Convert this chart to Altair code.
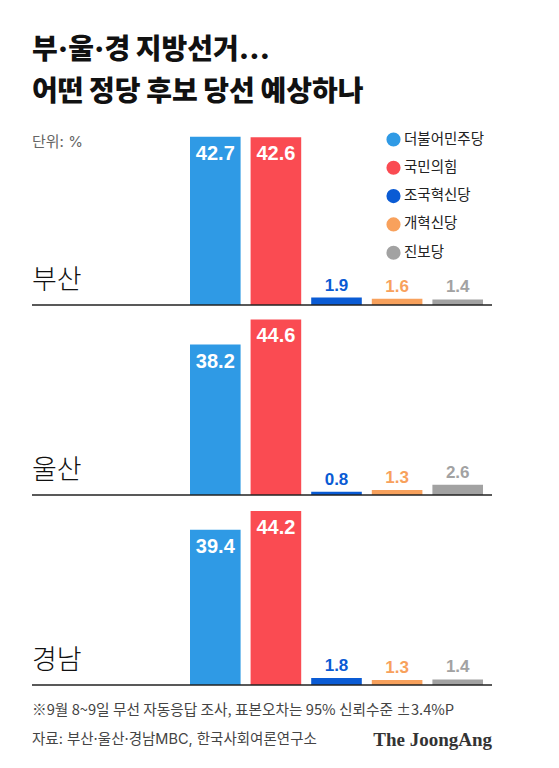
import altair as alt
import pandas as pd

title_lines = ["부·울·경 지방선거…", "어떤 정당 후보 당선 예상하나"]
unit_label = "단위: %"
parties = ["더불어민주당", "국민의힘", "조국혁신당", "개혁신당", "진보당"]
party_colors = ["#2F9AE5", "#FA4B52", "#0A5BD4", "#F8A15C", "#A2A2A2"]
regions = ["부산", "울산", "경남"]
busan = [42.7, 42.6, 1.9, 1.6, 1.4]
ulsan = [38.2, 44.6, 0.8, 1.3, 2.6]
gyeongnam = [39.4, 44.2, 1.8, 1.3, 1.4]
footnotes = ["※9월 8~9일 무선 자동응답 조사, 표본오차는 95% 신뢰수준 ±3.4%P",
             "자료: 부산·울산·경남MBC, 한국사회여론연구소"]
brand = "The JoongAng"

KR = "Noto Sans CJK KR"
MIX = "Inter, Noto Sans CJK KR"
NUM = "Liberation Sans"
W = 460
PANEL_H = 189
HEADER_H = 108
FOOTER_H = 77

color_scale = alt.Scale(domain=parties, range=party_colors)
legend = alt.Legend(orient="none", legendX=354, legendY=124, title=None,
                    symbolType="circle", symbolSize=200, symbolStrokeWidth=0,
                    symbolOpacity=1, labelFont=KR, labelFontSize=14.5,
                    labelColor="#222222", labelOffset=3, rowPadding=12.3,
                    labelLimit=200)

x_enc = alt.X("party:N", sort=parties,
              scale=alt.Scale(domain=parties, range=[158, 451],
                              paddingInner=0.165, paddingOuter=0),
              axis=None)
y_scale = alt.Scale(domain=[0, 48], nice=False, zero=True)


def panel(region, values, first=False):
    df = pd.DataFrame({"party": parties, "value": values})
    base = alt.Chart(df)
    y_enc = alt.Y("value:Q", scale=y_scale, axis=None)
    bars = base.mark_bar().encode(
        x=x_enc, y=y_enc,
        color=alt.Color("party:N", scale=color_scale, legend=legend))
    inside = base.transform_filter("datum.value >= 10").mark_text(
        font=NUM, fontWeight="bold", fontSize=20, color="white",
        baseline="middle", dy=17).encode(
        x=x_enc, y=y_enc, text=alt.Text("value:Q", format=".1f"))
    outside = base.transform_filter("datum.value < 10").mark_text(
        font=NUM, fontWeight="bold", fontSize=17,
        baseline="middle", dy=-12).encode(
        x=x_enc, y=y_enc, text=alt.Text("value:Q", format=".1f"),
        color=alt.Color("party:N", scale=color_scale, legend=None))
    one = pd.DataFrame({"region": [region]})
    rule = alt.Chart(one).mark_rule(color="#222222", strokeWidth=1.5).encode(
        y=alt.YDatum(0))
    label = alt.Chart(one).mark_text(
        font=KR, fontWeight=300, fontSize=27, color="#111111",
        align="left", baseline="middle").encode(
        x=alt.value(0), y=alt.value(PANEL_H - 24), text="region:N")
    layers = [bars, inside, outside, rule, label]
    if first:
        unit = alt.Chart(pd.DataFrame({"t": [unit_label]})).mark_text(
            font=MIX, fontSize=15, color="#666666", align="left",
            baseline="middle").encode(
            x=alt.value(0), y=alt.value(26), text="t:N")
        layers.append(unit)
    return alt.layer(*layers).properties(width=W, height=PANEL_H)


t1 = alt.Chart(pd.DataFrame({"t": [title_lines[0]]})).mark_text(
    font=MIX, fontWeight=900, fontSize=28, color="#111111",
    align="left", baseline="middle").encode(
    x=alt.value(0), y=alt.value(43), text="t:N")
t2 = alt.Chart(pd.DataFrame({"t": [title_lines[1]]})).mark_text(
    font=MIX, fontWeight=900, fontSize=28, color="#111111",
    align="left", baseline="middle").encode(
    x=alt.value(0), y=alt.value(85), text="t:N")
header = alt.layer(t1, t2).properties(width=W, height=HEADER_H)

f1 = alt.Chart(pd.DataFrame({"t": [footnotes[0]]})).mark_text(
    font=KR, fontSize=14.7, color="#444444", align="left",
    baseline="middle").encode(x=alt.value(0), y=alt.value(25), text="t:N")
f2 = alt.Chart(pd.DataFrame({"t": [footnotes[1]]})).mark_text(
    font=MIX, fontSize=14.5, color="#444444", align="left",
    baseline="middle").encode(x=alt.value(0), y=alt.value(54), text="t:N")
f3 = alt.Chart(pd.DataFrame({"t": [brand]})).mark_text(
    font="Liberation Serif", fontWeight="bold", fontSize=19, color="#333333",
    align="right", baseline="middle").encode(
    x=alt.value(W), y=alt.value(54), text="t:N")
footer = alt.layer(f1, f2, f3).properties(width=W, height=FOOTER_H)

chart = alt.vconcat(
    header,
    panel(regions[0], busan, first=True),
    panel(regions[1], ulsan),
    panel(regions[2], gyeongnam),
    footer,
    spacing=0,
).properties(
    padding={"left": 23, "top": 0, "right": 0, "bottom": 0},
    background="white",
).configure_view(stroke=None)

chart.save("out.html", embed_options={"renderer": "svg", "actions": False})
